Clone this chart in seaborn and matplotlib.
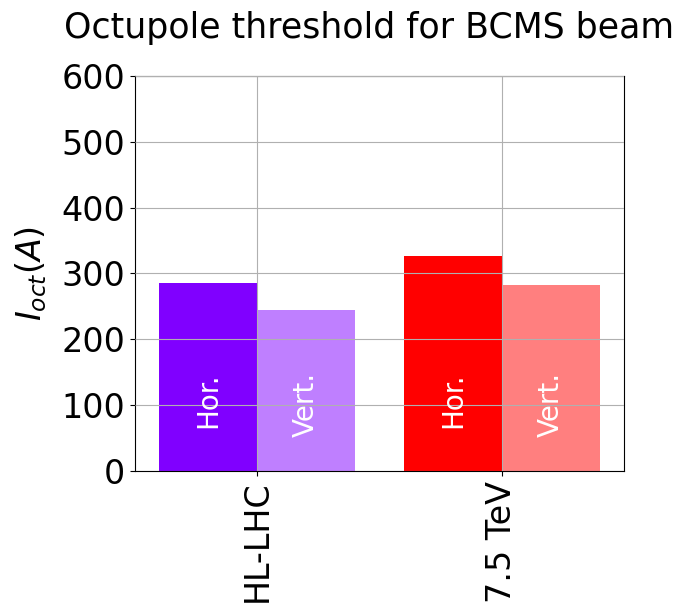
import matplotlib
matplotlib.use("Agg")
import matplotlib.pyplot as plt
import seaborn as sns
import pandas as pd

# Octupole current thresholds (A) per machine configuration and plane
machines = ["HL-LHC", "7.5 TeV"]
planes = ["Hor.", "Vert."]
hor_current = [285, 327]
vert_current = [245, 282]

# Base colour for each machine; the vertical plane uses a half-transparent shade
machine_colors = ["#8000ff", "#ff0000"]
plane_alpha = [1.0, 0.5]

df = pd.DataFrame({
    "machine": machines * 2,
    "plane": [planes[0]] * len(machines) + [planes[1]] * len(machines),
    "current": hor_current + vert_current,
})

fig = plt.figure(figsize=(6.86, 6.03), dpi=100)
ax = fig.add_axes([0.1968, 0.2189, 0.9096 - 0.1968, 0.874 - 0.2189])

sns.barplot(data=df, x="machine", y="current", hue="plane",
            order=machines, hue_order=planes, linewidth=0,
            legend=False, ax=ax)

for p_idx, container in enumerate(ax.containers):
    for m_idx, bar in enumerate(container):
        bar.set_facecolor(machine_colors[m_idx])
        bar.set_alpha(plane_alpha[p_idx])
        bar.set_edgecolor("none")
        ax.text(bar.get_x() + bar.get_width() / 2, 150, planes[p_idx],
                rotation=90, ha="center", va="top", color="white",
                fontsize=20)

ax.set_ylim(0, 600)
ax.set_yticks(range(0, 601, 100))
ax.set_xlim(-0.5, 1.5)
ax.grid(True, color="#b0b0b0", linewidth=0.8)
ax.set_axisbelow(False)

ax.set_xlabel("")
ax.set_ylabel(r"$I_{oct}(A)$", fontsize=24, labelpad=9)
ax.tick_params(axis="both", labelsize=24)
ax.tick_params(axis="x", labelrotation=90)
ax.set_title("Octupole threshold for BCMS beam", fontsize=25, pad=27, x=0.478)

fig.savefig("out.png", dpi=100)
